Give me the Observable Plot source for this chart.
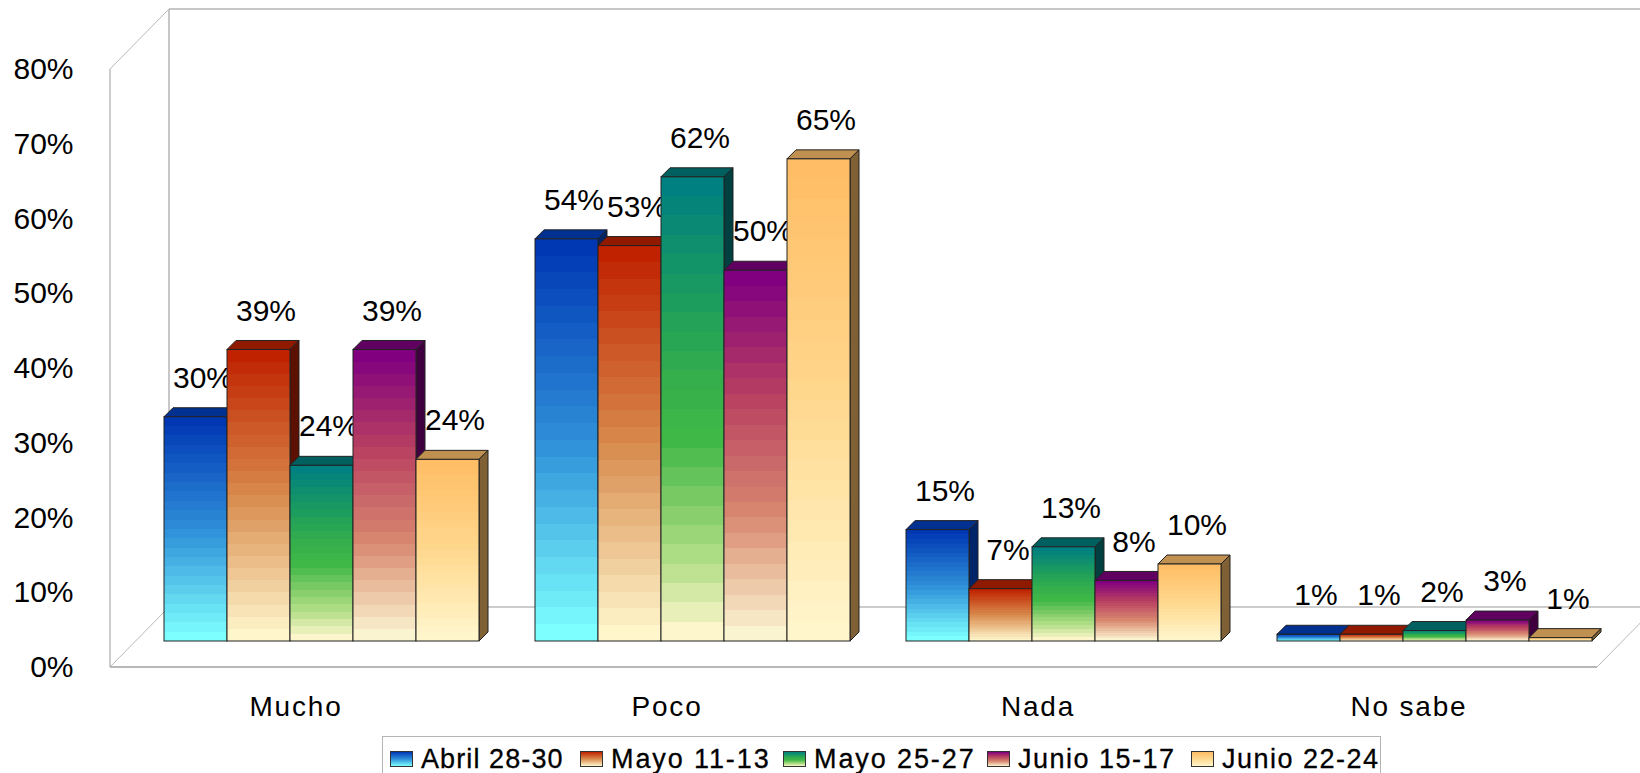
<!DOCTYPE html>
<html>
<head>
<meta charset="utf-8">
<script src="https://cdn.jsdelivr.net/npm/d3@7"></script>
<script src="https://cdn.jsdelivr.net/npm/@observablehq/plot@0.6"></script>
<style>
  html, body { margin: 0; padding: 0; background: #fff; overflow: hidden; width: 1640px; height: 773px; }
  svg { display: block; }
  svg text { -webkit-text-stroke: 0.3px #000; }
  svg [aria-label="fx-axis tick label"] text { letter-spacing: 1.8px; }
  #legend { position: absolute; left: 382px; top: 736px; width: 999px; height: 37px; border: 1.5px solid #b4b4b4; border-bottom: 0; box-sizing: border-box; background: #fff; }
  .item { position: absolute; top: 9px; display: flex; align-items: center; font: 27px/26px "Liberation Sans", Arial, sans-serif; color: #000; white-space: nowrap; -webkit-text-stroke: 0.3px #000; }
  .sw { width: 23px; height: 16px; border: 1px solid #333; margin-right: 8px; box-sizing: border-box; }
</style>
</head>
<body>
<div id="chart"></div>
<div id="legend"></div>
<script>
const categories = ["Mucho", "Poco", "Nada", "No sabe"];
const seriesNames = ["Abril 28-30", "Mayo 11-13", "Mayo 25-27", "Junio 15-17", "Junio 22-24"];
// bar heights
const abril = [30, 53.8, 14.9, 0.9];
const mayo1 = [39, 52.9, 7, 0.9];
const mayo2 = [23.5, 62.1, 12.6, 1.4];
const junio1 = [39, 49.6, 8.1, 2.8];
const junio2 = [24.3, 64.5, 10.3, 0.45];
// printed data labels
const abrilLabels = ["30%", "54%", "15%", "1%"];
const mayo1Labels = ["39%", "53%", "7%", "1%"];
const mayo2Labels = ["24%", "62%", "13%", "2%"];
const junio1Labels = ["39%", "50%", "8%", "3%"];
const junio2Labels = ["24%", "65%", "10%", "1%"];
const yTicks = [0, 10, 20, 30, 40, 50, 60, 70, 80];

const seriesValues = [abril, mayo1, mayo2, junio1, junio2];
const seriesLabels = [abrilLabels, mayo1Labels, mayo2Labels, junio1Labels, junio2Labels];

// face colours
const ramps = [
  ["#0038b4", "#2e8ed8", "#7dffff"],
  ["#c02200", "#d88a4c", "#fff6cc"],
  ["#008080", "#10906c", "#20a05a", "#34ae4c", "#40b848", "#80cc68", "#b8e08c", "#fdf6cc"],
  ["#800080", "#b84060", "#d88870", "#fbf4d0"],
  ["#ffbd66", "#ffd88e", "#fff6cc"]
];
const topColors = ["#003090", "#8f1a00", "#006060", "#600060", "#c09050"];
const sideColors = ["#002468", "#5c1000", "#004040", "#400040", "#806035"];

const FONT = '"Liberation Sans", Arial, sans-serif';
const depth = 9;
const bands = 24;

function gradientDefs() {
  const defs = d3.create("svg:defs");
  ramps.forEach((ramp, i) => {
    const color = d3.piecewise(d3.interpolateRgb, ramp);
    const g = defs.append("linearGradient").attr("id", "bar" + i)
      .attr("x1", 0).attr("y1", 0).attr("x2", 0).attr("y2", 1);
    for (let b = 0; b < bands; b++) {
      const c = color(b / (bands - 1));
      g.append("stop").attr("offset", b / bands).attr("stop-color", c);
      g.append("stop").attr("offset", (b + 1) / bands).attr("stop-color", c);
    }
  });
  return defs.node();
}

// room behind the bars: offsets from the plane the bars stand in
const roomFront = {x: 110, dy: 26};
const roomBack = {x: 169, dy: -34};
const roomRight = 1640;
const roomFloorRight = 1597;

function room(index, {y}) {
  const g = d3.create("svg:g").attr("fill", "none");
  const line = (x1, y1, x2, y2, stroke, w) => g.append("line")
    .attr("x1", x1).attr("y1", y1).attr("x2", x2).attr("y2", y2)
    .attr("stroke", stroke).attr("stroke-width", w);
  const by0 = y(0) + roomBack.dy, by80 = y(80) + roomBack.dy;
  const fy0 = y(0) + roomFront.dy, fy80 = y(80) + roomFront.dy;
  line(roomBack.x, by80, roomRight, by80, "#b4b4b4", 1.5);
  line(roomBack.x, by80, roomBack.x, by0, "#b4b4b4", 1.5);
  line(roomBack.x, by0, roomRight, by0, "#999", 1);
  line(roomFront.x, fy80, roomBack.x, by80, "#b8b8b8", 1);
  line(roomFront.x, fy80, roomFront.x, fy0, "#999", 1);
  line(roomFront.x, fy0, roomBack.x, by0, "#b8b8b8", 1);
  line(roomFront.x, fy0, roomFloorRight, fy0, "#b8b8b8", 2);
  line(roomFloorRight, fy0, roomFloorRight + (roomBack.x - roomFront.x), by0, "#b8b8b8", 1);
  return g.node();
}

function withFaces(i) {
  return function (index, scales, values, dimensions, context, next) {
    const g = next(index, scales, values, dimensions, context);
    d3.select(g).selectAll("rect").each(function () {
      const r = d3.select(this);
      const x = +r.attr("x"), t = +r.attr("y"), w = +r.attr("width"), h = +r.attr("height");
      const pts = a => a.map(p => p.join(",")).join(" ");
      const face = (points, fill) => {
        const p = document.createElementNS("http://www.w3.org/2000/svg", "polygon");
        p.setAttribute("points", pts(points));
        p.setAttribute("fill", fill);
        p.setAttribute("stroke", "#222");
        p.setAttribute("stroke-width", 1);
        g.insertBefore(p, this);
      };
      face([[x, t], [x + w, t], [x + w + depth, t - depth], [x + depth, t - depth]], topColors[i]);
      face([[x + w, t], [x + w + depth, t - depth], [x + w + depth, t + h - depth], [x + w, t + h]], sideColors[i]);
    });
    return g;
  };
}

const rows = seriesNames.map((name, s) =>
  categories.map((cat, c) => ({cat, name, value: seriesValues[s][c], label: seriesLabels[s][c]}))
);

const seriesMarks = rows.flatMap((data, i) => [
  Plot.barY(data, {
    fx: "cat", x: "name", y: "value",
    fill: "url(#bar" + i + ")", stroke: "#222", strokeWidth: 1,
    render: withFaces(i)
  }),
  Plot.text(data, {
    fx: "cat", x: "name", y: "value", text: "label",
    dx: 7, dy: -39, fontSize: 30, fill: "#000"
  })
]);

const chart = Plot.plot({
  width: 1640,
  height: 736,
  marginLeft: 74,
  marginRight: 0,
  marginTop: 0,
  marginBottom: 42,
  style: {fontFamily: FONT, background: "#fff", color: "#000"},
  fx: {domain: categories, range: [163.3, 1593.6], paddingInner: 0.151, paddingOuter: 0, label: null},
  x: {domain: seriesNames, padding: 0, axis: null, label: null},
  y: {domain: [0, 80], range: [641, 43], label: null},
  marks: [
    gradientDefs,
    Plot.frame({facet: "super", render: room}),
    Plot.axisY(yTicks, {
      anchor: "left", tickSize: 0, tickPadding: 1, dy: 26, dx: -90,
      tickFormat: d => d + "%", fontSize: 30, label: null, fill: "#000"
    }),
    Plot.axisFx({
      anchor: "bottom", tickSize: 0, tickPadding: 2, dx: -26,
      fontSize: 28, label: null, fill: "#000"
    }),
    ...seriesMarks
  ]
});
document.getElementById("chart").append(chart);

// legend under the chart
const lefts = [7, 197, 400, 604, 808];
const spacings = [1.1, 1.9, 1.9, 1.5, 1.5];
const legend = d3.select("#legend");
seriesNames.forEach((name, i) => {
  const item = legend.append("div").attr("class", "item")
    .style("left", lefts[i] + "px").style("letter-spacing", spacings[i] + "px");
  item.append("div").attr("class", "sw")
    .style("background", "linear-gradient(" + ramps[i].join(",") + ")");
  item.append("span").text(name);
});
</script>
</body>
</html>
